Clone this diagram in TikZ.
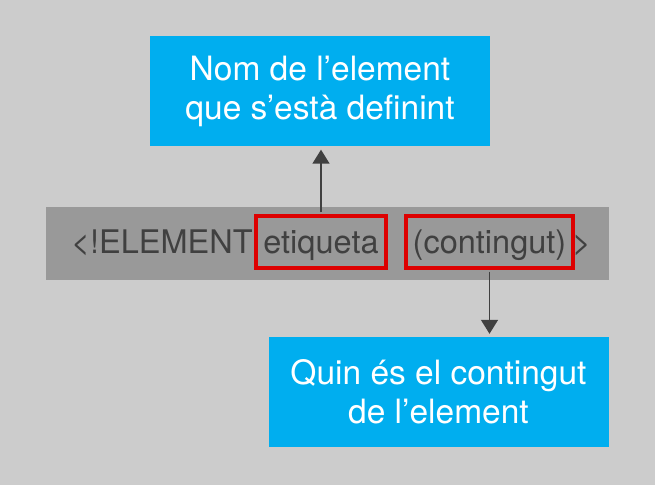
\documentclass[tikz,border=0pt]{standalone}
\usepackage{fontspec}
\setmainfont{TeX Gyre Heros}
\usetikzlibrary{arrows.meta}
\definecolor{fons}{HTML}{CCCCCC}
\definecolor{grisbarra}{HTML}{999999}
\definecolor{blau}{HTML}{00AEEF}
\definecolor{vermell}{HTML}{DD0000}
\definecolor{fosc}{HTML}{404040}

\begin{document}
\begin{tikzpicture}[x=1pt, y=1pt,
    caixa/.style={fill=blau, text=white, align=center, minimum width=340pt, minimum height=110pt, font=\fontsize{33.5}{39}\selectfont},
    codi/.style={text=fosc, inner sep=0pt, font=\fontsize{32.5}{39}\selectfont},
    marc/.style={codi, draw=vermell, line width=3.5pt, minimum height=52pt, text height=26pt, text depth=4pt},
    fletxa/.style={draw=fosc, line width=1.5pt, -{Triangle[width=17pt,length=14pt]}}]
    \fill[fons] (0,0) rectangle (655,485);

    \node[caixa] (nom) at (320, 393.5) {Nom de l’element\\que s’està definint};
    \node[fill=grisbarra, minimum width=563pt, minimum height=73pt] (barra) at (327.5, 241.5) {};
    \node[caixa] (contingut) at (438.5, 93) {Quin és el contingut\\de l’element};

    % la declaracio dins la barra
    \node[codi, anchor=base west] (obre) at (71, 232) {<!ELEMENT};
    \node[marc, minimum width=130pt] (etiq) at (321, 243) {etiqueta};
    \node[marc, minimum width=167pt] (cont) at (489.5, 243) {(contingut)};
    \node[codi, anchor=base west] (tanca) at (572, 232) {>};

    \draw[fletxa, shorten <=1.75pt, shorten >=3pt] (etiq.north) -- (etiq.north |- nom.south);
    \draw[fletxa, shorten <=1.75pt, shorten >=3pt] (cont.south) -- (cont.south |- contingut.north);
\end{tikzpicture}
\end{document}
